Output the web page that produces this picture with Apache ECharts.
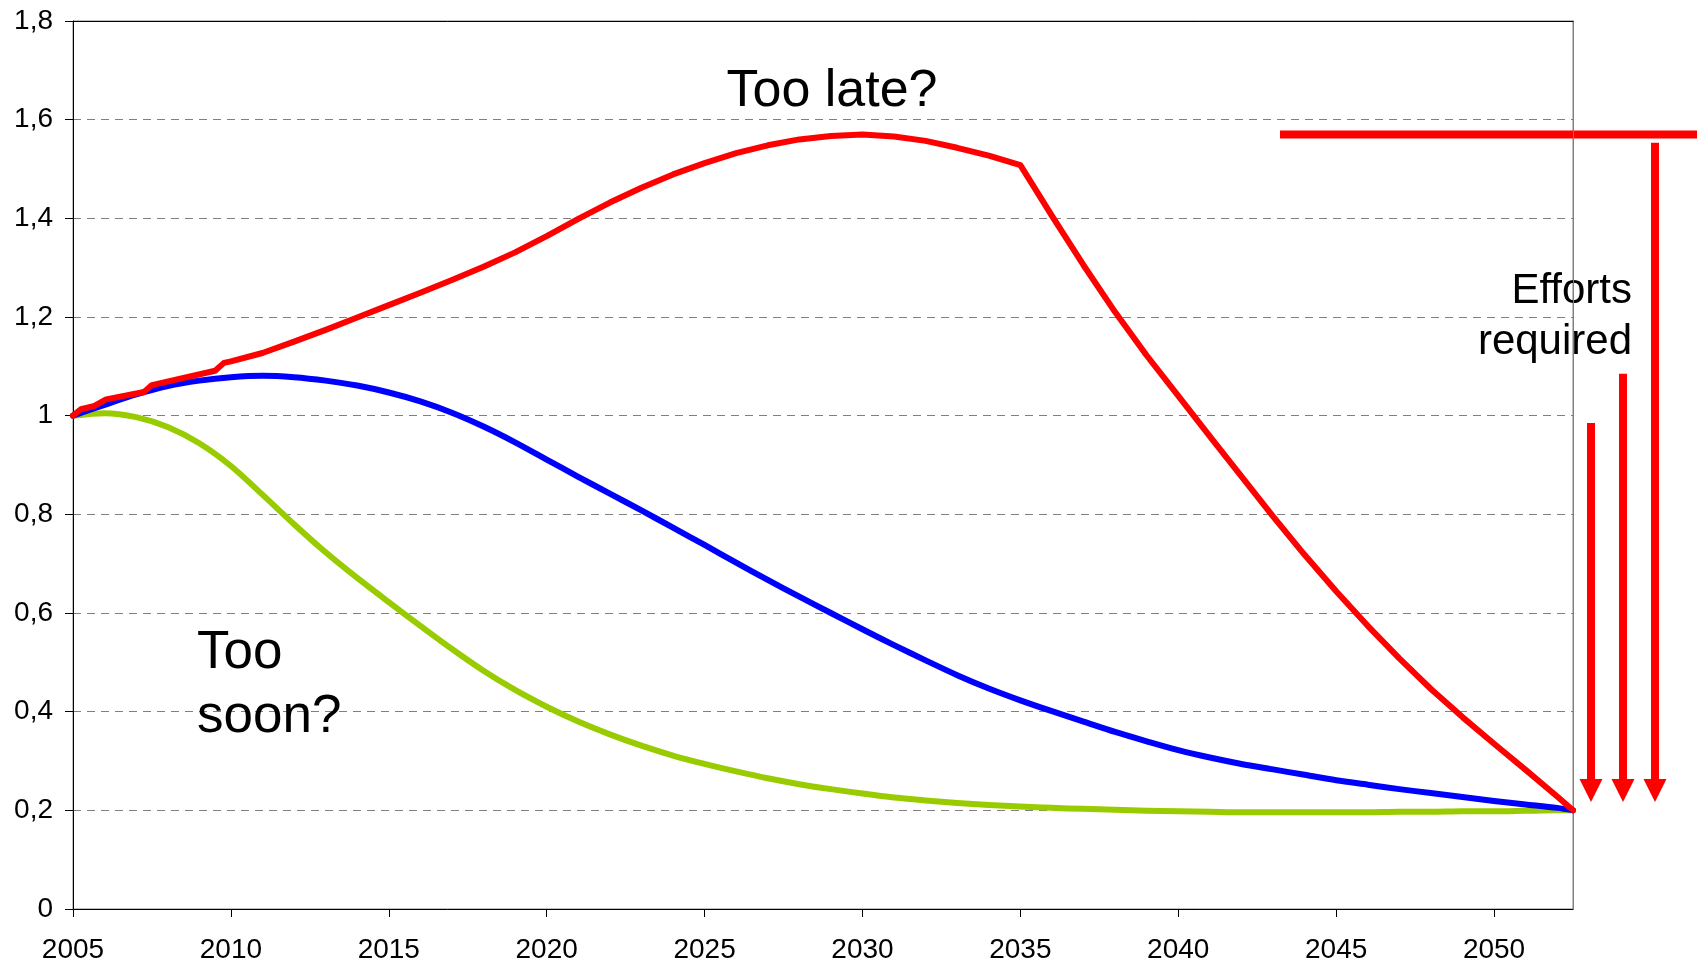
<!DOCTYPE html>
<html>
<head>
<meta charset="utf-8">
<title>Emission pathways</title>
<script src="https://cdn.jsdelivr.net/npm/echarts@6/dist/echarts.min.js"></script>
<style>
  html, body { margin: 0; padding: 0; background: #ffffff; }
  #chart { width: 1697px; height: 962px; }
</style>
</head>
<body>
<div id="chart"></div>
<script>
// Annual points shared by the blue and green pathways
const years = [2005, 2006, 2007, 2008, 2009, 2010, 2011, 2012, 2013, 2014, 2015, 2016,
  2017, 2018, 2019, 2020, 2021, 2022, 2023, 2024, 2025, 2026, 2027, 2028, 2029, 2030,
  2031, 2032, 2033, 2034, 2035, 2036, 2037, 2038, 2039, 2040, 2041, 2042, 2043, 2044,
  2045, 2046, 2047, 2048, 2049, 2050, 2051, 2052, 2052.5];

// Gradual pathway (blue)
const gradualValues = [1.000, 1.022, 1.043, 1.060, 1.071, 1.078, 1.081, 1.078, 1.071, 1.061,
  1.047, 1.029, 1.006, 0.978, 0.946, 0.911, 0.876, 0.842, 0.808, 0.773, 0.738, 0.702, 0.667,
  0.633, 0.600, 0.567, 0.535, 0.504, 0.474, 0.447, 0.423, 0.401, 0.380, 0.359, 0.340, 0.322,
  0.307, 0.294, 0.283, 0.272, 0.261, 0.252, 0.243, 0.235, 0.227, 0.219, 0.212, 0.205, 0.200];

// Early pathway (green)
const earlyValues = [1.000, 1.005, 0.997, 0.977, 0.944, 0.898, 0.840, 0.780, 0.723, 0.671,
  0.622, 0.574, 0.527, 0.483, 0.444, 0.410, 0.380, 0.354, 0.331, 0.311, 0.294, 0.279, 0.265,
  0.253, 0.243, 0.234, 0.226, 0.220, 0.215, 0.211, 0.208, 0.205, 0.203, 0.201, 0.199, 0.198,
  0.197, 0.196, 0.196, 0.196, 0.196, 0.196, 0.197, 0.197, 0.198, 0.198, 0.199, 0.200, 0.200];

// Late pathway (red), with the stepped start
const lateYears = [2005, 2005.25, 2005.65, 2006.05, 2007.25, 2007.5, 2009.5, 2009.78, 2010,
  2011, 2012, 2013, 2014, 2015, 2016, 2017, 2018, 2019, 2020, 2021, 2022, 2023, 2024, 2025,
  2026, 2027, 2028, 2029, 2030, 2031, 2032, 2033, 2034, 2035, 2036, 2037, 2038, 2039, 2040,
  2041, 2042, 2043, 2044, 2045, 2046, 2047, 2048, 2049, 2050, 2051, 2052, 2052.5];
const lateValues = [1.000, 1.013, 1.019, 1.033, 1.048, 1.062, 1.091, 1.107, 1.110,
  1.127, 1.150, 1.174, 1.199, 1.224, 1.249, 1.275, 1.302, 1.331, 1.364, 1.399, 1.432, 1.462,
  1.489, 1.512, 1.532, 1.548, 1.560, 1.567, 1.570, 1.566, 1.557, 1.543, 1.527, 1.508, 1.405,
  1.305, 1.210, 1.122, 1.040, 0.958, 0.877, 0.796, 0.718, 0.644, 0.574, 0.508, 0.446, 0.389,
  0.335, 0.282, 0.228, 0.200];

// Axis ticks
const xTicks = [2005, 2010, 2015, 2020, 2025, 2030, 2035, 2040, 2045, 2050];

// "Efforts required" arrows: top value of each shaft and value at the arrow tips
const effortTops = [0.985, 1.085, 1.553];
const effortTip = 0.217;

const FONT = '"Liberation Sans", Arial, sans-serif';

function pairs(xs, ys) { return xs.map((x, i) => [x, ys[i]]); }
function fmtY(v) {
  const r = Math.round(v * 10) / 10;
  return Number.isInteger(r) ? String(r) : r.toFixed(1).replace('.', ',');
}

const chart = echarts.init(document.getElementById('chart'), null, { renderer: 'canvas' });

const grid = { left: 73, right: 124, top: 21, bottom: 53 };

chart.setOption({
  animation: false,
  backgroundColor: '#ffffff',
  grid: Object.assign({ show: true, borderColor: '#808080', borderWidth: 1,
    backgroundColor: 'transparent', containLabel: false, outerBoundsMode: 'none' }, grid),
  xAxis: [{
    type: 'value', min: xTicks[0], max: 2052.5, interval: 5,
    axisLine: { show: true, onZero: false, lineStyle: { color: '#000000', width: 1 } },
    axisTick: { show: true, length: 8, customValues: xTicks, lineStyle: { color: '#000000' } },
    axisLabel: { customValues: xTicks, margin: 27, color: '#000000', fontSize: 28, fontFamily: FONT,
      formatter: v => String(v) },
    splitLine: { show: false }
  }, {
    type: 'value', position: 'top', min: xTicks[0], max: 2052.5,
    axisLine: { show: true, onZero: false, lineStyle: { color: '#000000', width: 1 } },
    axisTick: { show: false }, axisLabel: { show: false }, splitLine: { show: false }
  }],
  yAxis: [{
    type: 'value', min: 0, max: 1.8, interval: 0.2,
    axisLine: { show: true, onZero: false, lineStyle: { color: '#000000', width: 1 } },
    axisTick: { show: true, length: 8, lineStyle: { color: '#000000' } },
    axisLabel: { margin: 20, color: '#000000', fontSize: 28, fontFamily: FONT, formatter: fmtY,
      padding: [4, 0, 0, 0] },
    splitLine: { show: true, lineStyle: { color: '#808080', width: 1, type: [8, 6] } }
  }, {
    type: 'value', position: 'right', min: 0, max: 1.8,
    axisLine: { show: true, onZero: false, lineStyle: { color: '#808080', width: 1 } },
    axisTick: { show: false }, axisLabel: { show: false }, splitLine: { show: false }
  }],
  series: [{
    name: 'Too soon', type: 'line', data: pairs(years, earlyValues),
    showSymbol: false, symbol: 'none', smooth: 0.3,
    lineStyle: { color: '#99CC00', width: 6, join: 'round', cap: 'round' }
  }, {
    name: 'Gradual', type: 'line', data: pairs(years, gradualValues),
    showSymbol: false, symbol: 'none', smooth: 0.3,
    lineStyle: { color: '#0000FF', width: 6, join: 'round', cap: 'round' }
  }, {
    name: 'Too late', type: 'line', data: pairs(lateYears, lateValues),
    showSymbol: false, symbol: 'none',
    lineStyle: { color: '#FF0000', width: 6, join: 'round', cap: 'round' }
  }]
});

// Annotations: texts, the peak level bar and the effort arrows
const toY = v => chart.convertToPixel({ yAxisIndex: 0 }, v);
const peakY = toY(Math.max(...lateValues));
const tipY = toY(effortTip);
const arrowX = [1591, 1623, 1655];
const headH = 23, headW = 23, shaftW = 8;

const elements = [
  { type: 'text', style: { text: 'Too late?', x: 832, y: 92, fill: '#000', font: '52px ' + FONT,
      align: 'center', verticalAlign: 'middle' } },
  { type: 'text', style: { text: 'Too', x: 197, y: 653, fill: '#000', font: '53px ' + FONT,
      align: 'left', verticalAlign: 'middle' } },
  { type: 'text', style: { text: 'soon?', x: 197, y: 717, fill: '#000', font: '53px ' + FONT,
      align: 'left', verticalAlign: 'middle' } },
  { type: 'text', style: { text: 'Efforts', x: 1632, y: 291, fill: '#000', font: '42px ' + FONT,
      align: 'right', verticalAlign: 'middle' } },
  { type: 'text', style: { text: 'required', x: 1632, y: 342, fill: '#000', font: '42px ' + FONT,
      align: 'right', verticalAlign: 'middle' } },
  { type: 'line', shape: { x1: 1280, y1: peakY, x2: 1697, y2: peakY },
    style: { stroke: '#FF0000', lineWidth: 8 } }
];

effortTops.forEach((top, i) => {
  const x = arrowX[i];
  const topY = toY(top);
  elements.push({ type: 'rect', shape: { x: x - shaftW / 2, y: topY, width: shaftW, height: tipY - headH - topY + 1 },
    style: { fill: '#FF0000' } });
  elements.push({ type: 'polygon', shape: { points: [[x - headW / 2, tipY - headH], [x + headW / 2, tipY - headH], [x, tipY]] },
    style: { fill: '#FF0000' } });
});

chart.setOption({ graphic: { elements: elements } });
</script>
</body>
</html>
